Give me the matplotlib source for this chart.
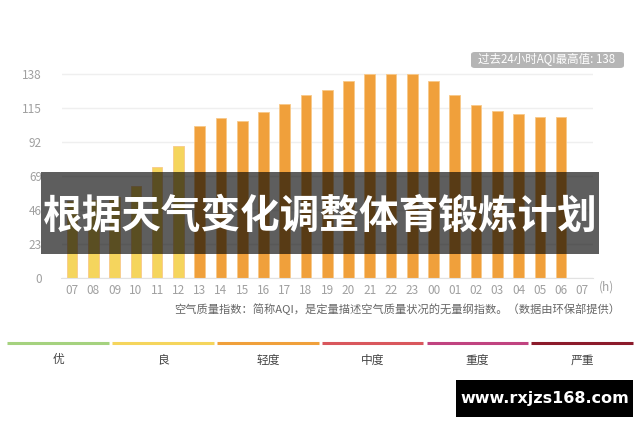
import numpy as np
import matplotlib
matplotlib.use("Agg")
import matplotlib.pyplot as plt
from matplotlib.patches import FancyBboxPatch, Rectangle

plt.rcParams['font.family'] = ['Noto Sans CJK SC', 'DejaVu Sans']

# data
hours = ["07", "08", "09", "10", "11", "12", "13", "14", "15", "16", "17", "18",
         "19", "20", "21", "22", "23", "00", "01", "02", "03", "04", "05", "06", "07"]
aqi = [52, 53, 55, 62, 75, 89, 103, 108, 106, 112, 118, 124,
       127, 133, 138, 138, 138, 133, 124, 117, 113, 111, 109, 109]
yticks = [0, 23, 46, 69, 92, 115, 138]

levels = ["优", "良", "轻度", "中度", "重度", "严重"]
level_colors = ["#a5d27f", "#f5d55d", "#f0a03b", "#d9575d", "#c04380", "#8c1b2b"]
level_limits = [50, 100, 150, 200, 300, 500]


def level_color(v):
    for lim, c in zip(level_limits, level_colors):
        if v <= lim:
            return c
    return level_colors[-1]


W, H = 640, 426
fig = plt.figure(figsize=(6.4, 4.26), dpi=100)


def fx(x):
    return x / W


def fy(y):
    return 1 - y / H


ax = fig.add_axes([fx(61.5), fy(278), fx(593) - fx(61.5), fy(71) - fy(278)])

x = np.arange(len(aqi))
bar_cols = [level_color(v) for v in aqi]
ax.bar(x, aqi, width=0.5, color=bar_cols, edgecolor="#f8c98a", linewidth=0.6, zorder=2)

ax.set_xlim(-0.5, len(hours) - 0.5)
ax.set_ylim(0, 140)
ax.set_xticks(np.arange(len(hours)))
ax.set_xticklabels(hours)
ax.set_yticks(yticks)
ax.tick_params(axis="both", length=0, colors="#a0a0a0", labelsize=8.5)
ax.tick_params(axis="y", pad=14)
ax.tick_params(axis="x", pad=4)
for s in ["top", "right", "left"]:
    ax.spines[s].set_visible(False)
ax.spines["bottom"].set_color("#e2e2e2")
ax.yaxis.grid(True, color="#efefef", linewidth=1, zorder=0)
ax.set_axisbelow(True)

fig.text(fx(606), fy(287), "(h)", ha="center", va="center", fontsize=8.5, color="#a0a0a0")

fig.text(fx(174), fy(309), "空气质量指数：简称AQI，是定量描述空气质量状况的无量纲指数。（数据由环保部提供）",
         ha="left", va="center", fontsize=8.1, color="#666666")

# max value tag
tag = FancyBboxPatch((fx(471), fy(68)), fx(624) - fx(471), fy(52) - fy(68),
                     boxstyle="round,pad=0,rounding_size=0.006", transform=fig.transFigure,
                     facecolor="#b5b5b5", edgecolor="none")
fig.patches.append(tag)
fig.text(fx(547), fy(60), "过去24小时AQI最高值: 138", ha="center", va="center",
         fontsize=8.3, color="white")

# level legend
seg = [(7, 109), (112, 214), (217, 319), (322, 423), (427, 528), (531, 633)]
for (x0, x1), name, col in zip(seg, levels, level_colors):
    fig.lines.append(plt.Line2D([fx(x0), fx(x1)], [fy(343), fy(343)], transform=fig.transFigure,
                                color=col, linewidth=2.2, solid_capstyle="butt"))
    fig.text(fx((x0 + x1) / 2), fy(360), name, ha="center", va="center", fontsize=8.5, color="#444444")

# banner overlay
banner = Rectangle((fx(41), fy(254)), fx(599) - fx(41), fy(172) - fy(254), transform=fig.transFigure,
                   facecolor="black", alpha=0.63, edgecolor="none", zorder=5)
fig.patches.append(banner)
fig.text(fx(320), fy(216), "根据天气变化调整体育锻炼计划", ha="center", va="center",
         fontsize=28.5, fontweight="bold", color="white", zorder=6)

# watermark
wm = Rectangle((fx(456), fy(417)), fx(633) - fx(456), fy(380) - fy(417), transform=fig.transFigure,
               facecolor="black", edgecolor="none", zorder=5)
fig.patches.append(wm)
fig.text(fx(545), fy(399), "www.rxjzs168.com", ha="center", va="center", fontsize=11.5,
         fontweight="bold", color="white", family="DejaVu Sans", zorder=6)

fig.savefig("out.png", dpi=100)
